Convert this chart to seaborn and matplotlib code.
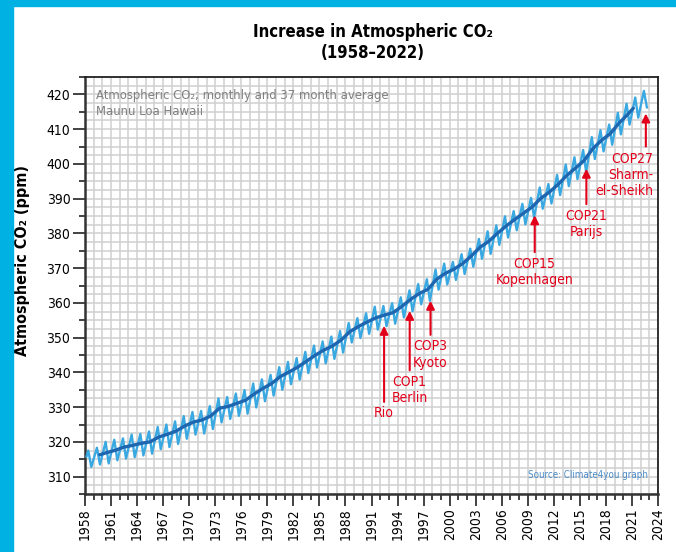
import numpy as np
import pandas as pd
import matplotlib
matplotlib.use("Agg")
import matplotlib.pyplot as plt
from matplotlib.ticker import MultipleLocator
from matplotlib.patches import Rectangle
import seaborn as sns

# ---------------- data ----------------
years = list(range(1958, 2023))
# seasonal maximum (around May) per year, ppm
peaks = [317.5, 318.3, 320.0, 320.6, 321.0, 322.1, 322.3, 323.0, 324.3, 325.0,
         325.9, 327.4, 328.6, 328.9, 330.3, 332.5, 332.9, 333.9, 334.9, 336.8,
         338.0, 339.3, 341.5, 343.0, 344.1, 345.9, 347.7, 348.9, 350.3, 351.9,
         354.2, 355.6, 357.0, 358.9, 359.1, 359.9, 361.6, 363.6, 365.4, 366.8,
         369.6, 371.3, 371.8, 374.0, 375.6, 378.4, 380.6, 382.3, 384.9, 386.4,
         388.5, 390.2, 393.2, 394.2, 396.8, 399.8, 401.9, 404.0, 407.7, 409.7,
         411.3, 414.7, 417.3, 419.1, 421.0]
# seasonal minimum (around September/October) per year, ppm
troughs = [312.8, 313.5, 313.8, 314.7, 315.2, 315.6, 316.1, 316.6, 317.9, 318.5,
           319.4, 320.9, 322.1, 322.4, 323.7, 325.6, 326.6, 327.5, 328.1, 329.9,
           331.7, 333.3, 335.0, 336.6, 337.9, 339.8, 341.4, 342.6, 343.9, 345.7,
           348.6, 349.9, 351.1, 352.3, 353.3, 354.0, 355.8, 357.6, 359.6, 360.6,
           363.8, 365.3, 366.6, 368.3, 370.4, 372.7, 374.1, 376.7, 378.8, 380.9,
           382.6, 384.6, 387.1, 388.6, 391.0, 393.6, 395.6, 397.6, 401.4, 403.6,
           405.5, 408.5, 411.3, 413.3, 416.2]
first_month_time = 1958.17
first_month_value = 315.7
peak_month = 5.0
trough_month = 9.2

# 37-month running average
avg_times = [1959.7] + [y + 0.5 for y in range(1960, 2021)] + [2021.15]
avg_values = [316.3,
              316.9, 317.6, 318.5, 319.0, 319.6, 320.0, 321.4, 322.2, 323.1, 324.6,
              325.7, 326.3, 327.5, 329.7, 330.2, 331.1, 332.0, 333.8, 335.4, 336.8,
              338.8, 340.1, 341.5, 343.2, 344.9, 346.4, 347.6, 349.3, 351.7, 353.2,
              354.5, 355.7, 356.5, 357.2, 359.0, 361.0, 362.7, 363.9, 366.8, 368.5,
              369.7, 371.3, 373.5, 376.0, 377.7, 380.0, 382.1, 384.0, 385.8, 387.6,
              390.1, 391.9, 394.1, 396.7, 398.8, 401.0, 404.4, 406.8, 408.7, 411.7,
              414.2,
              416.0]

# COP events: label, year, arrow tip (ppm), arrow tail (ppm)
cop_labels = ["Rio", "COP1\nBerlin", "COP3\nKyoto", "COP15\nKopenhagen",
              "COP21\nParijs", "COP27\nSharm-\nel-Sheikh"]
cop_years = [1992.45, 1995.4, 1997.8, 2009.8, 2015.75, 2022.6]
cop_tip = [353.4, 357.7, 360.6, 385.2, 398.6, 414.5]
cop_tail = [331.5, 340.6, 350.8, 374.6, 388.4, 405.0]

x_ticks = list(range(1958, 2025, 3))
y_ticks = list(range(310, 421, 10))

# ---------------- build tables ----------------
t_m = [first_month_time]
v_m = [first_month_value]
for y, p, tr in zip(years, peaks, troughs):
    t_m += [y + (peak_month - 0.5) / 12, y + (trough_month - 0.5) / 12]
    v_m += [p, tr]
monthly = pd.DataFrame({"t": t_m, "co2": v_m})
smooth = pd.DataFrame({"t": avg_times, "co2": avg_values})

# ---------------- style ----------------
sns.set_theme(style="white")
FONT = ["DejaVu Sans", "Liberation Sans"]
plt.rcParams["font.family"] = FONT
plt.rcParams["font.stretch"] = "condensed"
plt.rcParams["axes.unicode_minus"] = False
plt.rcParams["text.color"] = "black"
plt.rcParams["axes.labelcolor"] = "black"

fig = plt.figure(figsize=(6.76, 5.52), dpi=100)
fig.patch.set_facecolor("white")
W, H = 676, 552
fig.patches.append(Rectangle((0, 0), 12.5 / W, 1, transform=fig.transFigure,
                             color="#00B2E3", zorder=0))
fig.patches.append(Rectangle((0, 1 - 5.5 / H), 1, 5.5 / H, transform=fig.transFigure,
                             color="#00B2E3", zorder=0))

ax = fig.add_axes([85 / W, 1 - 494 / H, (658 - 85) / W, (494 - 77) / H])
ax.set_facecolor("white")

sns.lineplot(data=monthly, x="t", y="co2", ax=ax, color="#3AA9E1", lw=1.7,
             estimator=None, sort=False, zorder=3)
sns.lineplot(data=smooth, x="t", y="co2", ax=ax, color="#1E66B0", lw=2.4,
             estimator=None, sort=False, zorder=4)

ax.set_xlim(1958, 2024)
ax.set_ylim(305, 425)

# grid
for gy in np.arange(305, 425.01, 2.5):
    ax.axhline(gy, color="#d0d0d0", lw=1.1, zorder=1)
for gx in range(1958, 2025):
    ax.axvline(gx, color="#d0d0d0", lw=1.1, zorder=1)

ax.set_xticks(x_ticks)
ax.xaxis.set_minor_locator(MultipleLocator(1))
ax.set_yticks(y_ticks)
ax.yaxis.set_minor_locator(MultipleLocator(5))
ax.tick_params(axis="both", which="major", direction="out", length=8.5, width=1.2,
               color="#222222", labelsize=10, labelcolor="black", pad=2,
               bottom=True, left=True)
ax.tick_params(axis="both", which="minor", direction="out", length=4, width=1.2,
               color="#222222", bottom=True, left=True)
ax.tick_params(axis="x", labelrotation=90)

for s in ["left", "bottom"]:
    ax.spines[s].set_color("#333333")
    ax.spines[s].set_linewidth(1.8)
for s in ["top", "right"]:
    ax.spines[s].set_color("#222222")
    ax.spines[s].set_linewidth(1.3)

ax.set_xlabel("")
ax.set_ylabel("Atmospheric CO\u2082 (ppm)", fontsize=11.5, fontweight="bold")
ax.yaxis.set_label_coords((30 - 85) / 573, (494 - 260) / 417)

fig.text(373 / W, 1 - 32 / H, "Increase in Atmospheric CO\u2082", ha="center",
         va="center", fontsize=12, fontweight="bold", color="black")
fig.text(373 / W, 1 - 53 / H, "(1958\u20132022)", ha="center", va="center",
         fontsize=12, fontweight="bold", color="black")

ax.text(0.019, 0.972, "Atmospheric CO\u2082; monthly and 37 month average\nMaunu Loa Hawaii",
        transform=ax.transAxes, ha="left", va="top", fontsize=9.4, color="#808080",
        linespacing=1.3, zorder=5)
ax.text(0.982, 0.045, "Source: Climate4you graph", transform=ax.transAxes,
        ha="right", va="center", fontsize=7, color="#4A8BC8", zorder=5)

RED = "#E2001A"
for lab, x, tip, tail in zip(cop_labels, cop_years, cop_tip, cop_tail):
    ax.annotate("", xy=(x, tip), xytext=(x, tail),
                arrowprops=dict(arrowstyle="-|>", color=RED, lw=1.5,
                                mutation_scale=12, shrinkA=0, shrinkB=0),
                zorder=6)
    if lab.startswith("COP27"):
        ax.text(2023.45, tail - 1.5, lab, ha="right", va="top", color=RED,
                fontsize=10, linespacing=1.2, zorder=6)
    else:
        ax.text(x, tail - 1.3, lab, ha="center", va="top", color=RED,
                fontsize=10, linespacing=1.2, zorder=6)

fig.savefig("out.png", dpi=100, facecolor="white")
